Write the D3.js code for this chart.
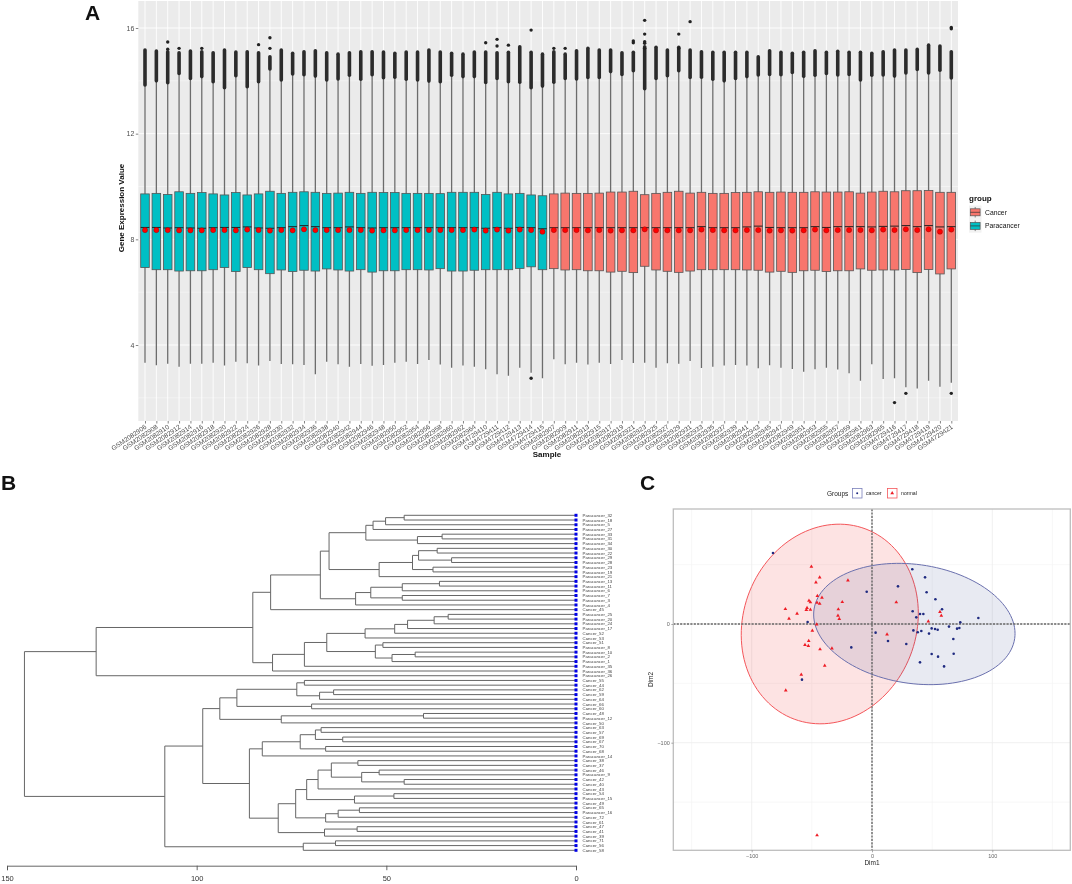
<!DOCTYPE html>
<html><head><meta charset="utf-8">
<script src="https://cdn.jsdelivr.net/npm/d3@7/dist/d3.min.js"></script>
<style>html,body{margin:0;padding:0;background:#fff}svg{display:block;filter:blur(0.25px)}text{font-family:"Liberation Sans",Arial,sans-serif}</style>
</head><body><svg id="c" width="1072" height="884"></svg>
<script>
// ---------- Panel A data ----------
const sampleIds = ["GSM2082906","GSM2082908","GSM2082910","GSM2082912","GSM2082914","GSM2082916","GSM2082918","GSM2082920","GSM2082922","GSM2082924","GSM2082926","GSM2082928","GSM2082930","GSM2082932","GSM2082934","GSM2082936","GSM2082938","GSM2082940","GSM2082942","GSM2082944","GSM2082946","GSM2082948","GSM2082950","GSM2082952","GSM2082954","GSM2082956","GSM2082958","GSM2082960","GSM2082962","GSM2082964","GSM4729410","GSM4729411","GSM4729412","GSM4729413","GSM4729414","GSM4729415",
"GSM2082907","GSM2082909","GSM2082911","GSM2082913","GSM2082915","GSM2082917","GSM2082919","GSM2082921","GSM2082923","GSM2082925","GSM2082927","GSM2082929","GSM2082931","GSM2082933","GSM2082935","GSM2082937","GSM2082939","GSM2082941","GSM2082943","GSM2082945","GSM2082947","GSM2082949","GSM2082951","GSM2082953","GSM2082955","GSM2082957","GSM2082959","GSM2082961","GSM2082963","GSM2082965","GSM4729416","GSM4729417","GSM4729418","GSM4729419","GSM4729420","GSM4729421"];
const upperQuartile = [9.72,9.74,9.70,9.80,9.74,9.77,9.72,9.68,9.77,9.68,9.72,9.82,9.74,9.78,9.80,9.78,9.74,9.75,9.78,9.74,9.78,
9.77,9.77,9.74,9.74,9.74,9.73,9.78,9.78,9.78,9.70,9.78,9.72,9.74,9.68,9.65,9.72,9.75,9.74,9.74,9.75,9.79,9.79,9.82,9.69,9.74,9.78,9.82,9.75,9.78,9.74,9.74,9.77,9.78,9.80,9.78,9.79,9.78,9.78,9.80,9.79,9.79,9.80,9.75,9.79,9.82,9.80,9.84,9.84,9.85,9.78,9.78];
const lowerQuartile = [6.93,6.85,6.85,6.80,6.81,6.81,6.85,6.93,6.78,6.93,6.85,6.70,6.84,6.78,6.83,6.80,6.88,6.84,6.80,6.85,6.76,
6.81,6.81,6.85,6.85,6.84,6.89,6.80,6.80,6.83,6.85,6.85,6.85,6.90,6.96,6.85,6.89,6.84,6.85,6.81,6.81,6.76,6.79,6.74,6.98,6.84,6.79,6.75,6.80,6.85,6.85,6.85,6.85,6.84,6.83,6.76,6.79,6.75,6.81,6.83,6.78,6.81,6.81,6.88,6.83,6.84,6.84,6.86,6.74,6.86,6.69,6.88];
const medians = [8.45,8.45,8.43,8.44,8.43,8.42,8.44,8.45,8.45,8.47,8.43,8.42,8.44,8.48,8.52,8.48,8.44,8.44,8.47,8.44,8.43,
8.44,8.44,8.44,8.44,8.44,8.44,8.44,8.44,8.44,8.42,8.44,8.42,8.45,8.44,8.40,8.44,8.44,8.44,8.44,8.44,8.44,8.44,8.44,8.44,8.44,8.44,8.44,8.44,8.48,8.44,8.44,8.44,8.47,8.50,8.45,8.44,8.44,8.44,8.48,8.45,8.48,8.48,8.48,8.47,8.49,8.50,8.52,8.48,8.52,8.47,8.48];
const means = [8.35,8.35,8.35,8.34,8.34,8.34,8.35,8.35,8.34,8.37,8.35,8.33,8.35,8.34,8.38,8.35,8.35,8.35,8.35,8.35,8.33,
8.34,8.34,8.35,8.35,8.35,8.35,8.35,8.35,8.37,8.33,8.37,8.33,8.37,8.35,8.29,8.35,8.35,8.35,8.34,8.35,8.33,8.34,8.34,8.38,8.34,8.34,8.34,8.34,8.37,8.35,8.34,8.34,8.35,8.35,8.33,8.34,8.33,8.34,8.37,8.34,8.35,8.35,8.35,8.34,8.37,8.35,8.38,8.35,8.38,8.29,8.37];
const whiskerTop = [13.84,14.00,13.93,14.28,14.09,14.16,13.97,13.74,14.19,13.78,13.97,14.45,14.03,14.26,14.23,14.18,14.03,14.07,14.21,14.06,14.23,
14.12,14.14,14.06,14.03,13.99,13.97,14.21,14.16,14.16,13.94,14.09,13.97,13.95,13.74,13.80,13.95,14.09,14.07,14.13,14.13,14.35,14.24,14.38,13.70,14.09,14.19,14.38,14.13,14.14,14.06,14.00,14.09,14.16,14.22,14.24,14.23,14.32,14.17,14.21,14.28,14.22,14.24,14.03,14.21,14.22,14.18,14.30,14.43,14.30,14.40,14.11];
const whiskerBottom = [3.33,3.23,3.29,3.18,3.29,3.29,3.33,3.22,3.37,3.31,3.22,3.39,3.28,3.27,3.24,2.89,3.37,3.27,3.18,3.28,3.21,
3.24,3.33,3.37,3.28,3.43,3.26,3.14,3.22,3.18,3.08,2.89,2.84,3.14,2.95,2.74,3.46,3.27,3.33,3.26,3.33,3.28,3.43,3.32,3.33,3.14,3.31,3.29,3.39,3.13,3.18,3.22,3.24,3.22,3.12,3.23,3.14,3.09,2.99,3.08,3.14,3.07,2.93,2.65,3.27,2.71,2.74,2.40,2.35,2.65,2.42,2.57];
const outlierBandTop = [15.17,15.13,15.10,15.06,15.13,15.10,15.06,15.17,15.09,15.10,15.06,14.91,15.17,15.04,15.10,15.14,15.06,15.01,15.06,15.10,15.10,
15.09,15.04,15.09,15.09,15.17,15.09,15.04,15.01,15.09,15.09,15.06,15.08,15.29,15.08,15.01,15.10,15.01,15.14,15.23,15.17,15.17,15.06,15.08,15.29,15.27,15.17,15.27,15.17,15.10,15.08,15.08,15.08,15.08,14.91,15.14,15.08,15.04,15.08,15.14,15.08,15.12,15.08,15.08,15.04,15.10,15.17,15.17,15.19,15.35,15.32,15.10];
const outlierSample = [2,2,3,5,10,11,11,30,31,31,32,34,34,36,37,43,43,44,44,44,44,44,47,47,48,66,67,71,71,71];
const outlierValue = [15.47,15.2,15.23,15.23,15.37,15.63,15.23,15.44,15.57,15.32,15.35,15.92,2.74,15.23,15.23,15.51,15.44,16.29,15.77,15.48,15.42,15.23,15.77,15.23,16.24,1.82,2.17,16.02,15.97,2.17];
const groupNames = ["Cancer","Paracancer"];
const paracancerCount = 36;
const yTicksA = [4,8,12,16];
const yMinorA = [2,6,10,14];

// ---------- Panel B data ----------
const leafLabels = ["Paracancer_32","Paracancer_18","Paracancer_5","Paracancer_27","Paracancer_33","Paracancer_31","Paracancer_34","Paracancer_30","Paracancer_22","Paracancer_29","Paracancer_28","Paracancer_23","Paracancer_19","Paracancer_21","Paracancer_13","Paracancer_11","Paracancer_6","Paracancer_7","Paracancer_3","Paracancer_4","Cancer_45","Paracancer_25","Paracancer_20","Paracancer_24","Paracancer_17","Cancer_52","Cancer_53","Cancer_51","Paracancer_8","Paracancer_10","Paracancer_2","Paracancer_1","Paracancer_35","Paracancer_36","Paracancer_26","Cancer_55","Cancer_44","Cancer_62","Cancer_59","Cancer_64","Cancer_66","Cancer_60","Cancer_48","Paracancer_12","Cancer_50","Cancer_63","Cancer_57","Cancer_69","Cancer_67","Cancer_70","Cancer_68","Paracancer_14","Cancer_38","Cancer_37","Cancer_46","Paracancer_9","Cancer_42","Cancer_40","Cancer_43","Cancer_54","Paracancer_15","Cancer_49","Cancer_65","Paracancer_16","Cancer_72","Cancer_61","Cancer_47","Cancer_41","Cancer_39","Cancer_71","Cancer_56","Cancer_58"];
// merges: [height, left, right]; a number is an index into leafLabels
const upperMerges = [126.5,[85.2,[80.5,[67.4,[65.1,[55.4,[53.5,[50.2,[45.3,0,1],2],3],[41.8,[35.3,4,5],6]],[51.9,[43.1,[41.5,[36.6,7,8],[32.8,9,10]],[37.7,11,12]],13]],[58.1,[54.1,[45.8,[36,14,15],16],[45.8,17,18]],19]],20],[80,[71.6,[65.7,[55.6,[47.8,[44.4,[37.4,[33.7,21,22],23],24],25],26],[52.9,[50.9,27,28],[48.5,[42.4,29,30],31]]],32],33]],34];
const lowerMerges = [108.4,[98.4,[93.9,[89.4,[73.6,[71.6,35,36],[67.6,[63.9,37,38],39]],[69.7,40,41]],[77.7,[40.2,42,43],44]],[86.1,[82.7,[72.7,[68.7,[67.2,45,46],[61.5,47,48]],[66,49,50]],51],[78.5,[73.9,[71,[68,[64.5,[57.5,52,53],[56.5,[51.9,54,55],[45.3,56,57]]],58],[58.4,[48,59,60],61]],[66,[62.7,[57.1,62,63],64],65]],[66.3,[57.7,66,67],68]]]],[71.9,[63.4,69,70],71]];
const rootHeight = 145.4;
const heightTicks = [150,100,50,0];

// ---------- Panel C data ----------
const cancerDim1 = [-82.3,33.5,44.1,21.6,-4.4,45.4,52.7,33.8,58.2,39.9,42.7,36.8,88.4,73.4,-53.5,72.6,70.7,64,49.6,52.4,54.6,34.4,41,38,47.4,3,67.6,13.3,28.5,-17.2,67.9,49.6,54.9,39.9,59.9,-58.2];
const cancerDim2 = [59.8,46.1,39.3,31.7,27.2,26.7,20.8,10.7,12.4,8.4,8.4,5.6,5.1,1.4,1.7,-3.4,-3.9,-2.2,-3.7,-4.2,-4.8,-5.4,-5.9,-7,-8.1,-7.3,-12.6,-14.3,-16.8,-19.7,-25,-25.3,-27.5,-32.3,-35.7,-46.9];
const normalDim1 = [-50.4,-43.5,-46.6,-20,-45.4,-41.6,-52.4,-51.2,-45.7,-43.5,-24.7,20.2,-72,-54,-54.6,-51.2,-28,-62.3,56.5,-28.3,57.6,-69,-27.2,46.8,-46,-49.6,12.5,-52.6,-55.7,-52.9,-43.2,-33.3,-39.3,-58.8,-71.7,-45.7];
const normalDim2 = [48.3,39.3,35.1,36.8,23.6,22.2,19.7,18.3,18,17.1,18.5,18.3,12.6,13.5,11.8,12.1,12.4,8.7,10.1,7,7,4.5,4.2,2.2,-0.3,-5.6,-8.7,-14.3,-17.7,-18.5,-21.3,-20.5,-35.1,-42.7,-55.9,-178];
// ellipse summaries: centre, half-extent along each axis, correlation
const cancerEllipse = {cx:35.2, cy:0, ax:83.7, ay:51.1, rho:-0.157};
const normalEllipse = {cx:-35.1, cy:0, ax:73.6, ay:84.1, rho:0.106};
const xTicksC = [-100,0,100];
const yTicksC = [-100,0];
const xMinorC = [-150,-50,50,150];
const yMinorC = [-150,-50,50];

// ---------- drawing ----------
const svg = d3.select("#c");
const FONT = '"Liberation Sans",Arial,sans-serif';
const teal = "#00BFC4", salmon = "#F8766D";

// Panel letters
[["A",85,19.5],["B",1,490],["C",640,490]].forEach(([t,x,y]) =>
  svg.append("text").attr("x",x).attr("y",y).attr("font-size",21).attr("font-weight","bold").attr("fill","#111").text(t));

// ===== Panel A =====
const a = {l:138.3,r:958,t:1,b:421};
const xA = d3.scalePoint(sampleIds,[145,951.3]);
const yA = d3.scaleLinear([4,16],[345,28]);
const gA = svg.append("g");
gA.append("rect").attr("x",a.l).attr("y",a.t).attr("width",a.r-a.l).attr("height",a.b-a.t).attr("fill","#EBEBEB");
gA.selectAll("line.minor").data(yMinorA).join("line").attr("x1",a.l).attr("x2",a.r)
  .attr("y1",d=>yA(d)).attr("y2",d=>yA(d)).attr("stroke","#fff").attr("stroke-width",0.4);
gA.selectAll("line.major").data(yTicksA).join("line").attr("x1",a.l).attr("x2",a.r)
  .attr("y1",d=>yA(d)).attr("y2",d=>yA(d)).attr("stroke","#fff").attr("stroke-width",0.9);
gA.selectAll("line.vert").data(sampleIds).join("line").attr("y1",a.t).attr("y2",a.b)
  .attr("x1",d=>xA(d)).attr("x2",d=>xA(d)).attr("stroke","#fff").attr("stroke-width",0.9);

const boxW = 8.6;
sampleIds.forEach((id,i)=>{
  const x = xA(id), g = gA.append("g");
  g.append("line").attr("x1",x).attr("x2",x).attr("y1",yA(whiskerTop[i])).attr("y2",yA(whiskerBottom[i]))
    .attr("stroke","#6c6c6c").attr("stroke-width",1.3);
  g.append("line").attr("x1",x).attr("x2",x).attr("y1",yA(whiskerTop[i])).attr("y2",yA(outlierBandTop[i]))
    .attr("stroke","#2b2b2b").attr("stroke-width",3.6).attr("stroke-linecap","round");
  g.append("rect").attr("x",x-boxW/2).attr("width",boxW)
    .attr("y",yA(upperQuartile[i])).attr("height",yA(lowerQuartile[i])-yA(upperQuartile[i]))
    .attr("fill",i<paracancerCount?teal:salmon).attr("stroke","#555").attr("stroke-width",0.8);
  g.append("line").attr("x1",x-boxW/2).attr("x2",x+boxW/2).attr("y1",yA(medians[i])).attr("y2",yA(medians[i]))
    .attr("stroke","#222").attr("stroke-width",1);
  g.append("circle").attr("cx",x).attr("cy",yA(means[i])).attr("r",2.6)
    .attr("fill","#f00").attr("stroke","#800").attr("stroke-width",0.4);
});
gA.selectAll("circle.out").data(outlierValue).join("circle")
  .attr("cx",(d,i)=>xA(sampleIds[outlierSample[i]])).attr("cy",d=>yA(d)).attr("r",1.7).attr("fill","#222");

const axA = gA.append("g").attr("transform",`translate(${a.l},0)`)
  .call(d3.axisLeft(yA).tickValues(yTicksA).tickSize(2.5).tickPadding(1.5));
axA.select(".domain").remove();
axA.selectAll("line").attr("stroke","#333").attr("stroke-width",0.6);
axA.selectAll("text").attr("font-family",FONT).attr("font-size",7).attr("fill","#4d4d4d");
const axAx = gA.append("g").attr("transform",`translate(0,${a.b})`)
  .call(d3.axisBottom(xA).tickSize(2.5).tickPadding(1));
axAx.select(".domain").remove();
axAx.selectAll("line").attr("stroke","#333").attr("stroke-width",0.6);
axAx.selectAll("text").attr("font-family",FONT).attr("font-size",6.6).attr("fill","#4d4d4d")
  .attr("text-anchor","end").attr("dy","0").attr("y",0)
  .attr("transform","translate(1.5,7) rotate(-34)");

svg.append("text").attr("transform","translate(124,208) rotate(-90)").attr("text-anchor","middle")
  .attr("font-size",8).attr("font-weight","bold").attr("fill","#111").text("Gene Expression Value");
svg.append("text").attr("x",547).attr("y",456.5).attr("text-anchor","middle")
  .attr("font-size",8).attr("font-weight","bold").attr("fill","#111").text("Sample");

// legend A
const lgA = svg.append("g");
lgA.append("text").attr("x",969).attr("y",201).attr("font-size",8).attr("font-weight","bold").attr("fill","#111").text("group");
groupNames.forEach((name,i)=>{
  const y0 = 205.5 + i*13.6, g = lgA.append("g");
  g.append("rect").attr("x",969).attr("y",y0).attr("width",12.5).attr("height",13.6).attr("fill","#F2F2F2");
  g.append("line").attr("x1",975.2).attr("x2",975.2).attr("y1",y0+1.5).attr("y2",y0+12).attr("stroke","#555").attr("stroke-width",.7);
  g.append("rect").attr("x",970.3).attr("y",y0+3.3).attr("width",9.8).attr("height",7).attr("fill",i?teal:salmon).attr("stroke","#555").attr("stroke-width",.7);
  g.append("line").attr("x1",970.3).attr("x2",980.1).attr("y1",y0+6.8).attr("y2",y0+6.8).attr("stroke","#333").attr("stroke-width",.7);
  g.append("text").attr("x",985).attr("y",y0+9.3).attr("font-size",6.8).attr("fill","#111").text(name);
});

// ===== Panel B =====
const xB = d3.scaleLinear([150,0],[7,576]);
const yB = d3.scalePoint(d3.range(leafLabels.length),[515.3,850.3]);
const hier = d3.hierarchy([rootHeight,upperMerges,lowerMerges], d => Array.isArray(d) ? d.slice(1) : null);
hier.eachAfter(n=>{
  if(n.children){ n.h = n.data[0]; n.py = d3.mean(n.children,c=>c.py); }
  else { n.h = 0; n.py = yB(n.data); }
});
const gB = svg.append("g");
const treePath = d3.path();
hier.each(n=>{
  if(!n.children) return;
  const [c1,c2] = n.children;
  treePath.moveTo(xB(c1.h),c1.py); treePath.lineTo(xB(n.h),c1.py);
  treePath.lineTo(xB(n.h),c2.py);  treePath.lineTo(xB(c2.h),c2.py);
});
gB.append("path").attr("d",treePath.toString()).attr("fill","none").attr("stroke","#666").attr("stroke-width",1);
gB.selectAll("rect.leaf").data(leafLabels).join("rect")
  .attr("x",576-1.5).attr("y",(d,i)=>yB(i)-1.5).attr("width",3).attr("height",3).attr("fill","#0000e6");
gB.selectAll("text.leaf").data(leafLabels).join("text")
  .attr("x",582.5).attr("y",(d,i)=>yB(i)+1.6).attr("font-size",4.4).attr("fill","#444").text(d=>d);
const axB = gB.append("g").attr("transform","translate(0,865.7)")
  .call(d3.axisBottom(xB).tickValues(heightTicks).tickSize(4.5).tickPadding(5).tickFormat(d3.format("d")));
axB.select(".domain").attr("stroke","#555").attr("stroke-width",0.9);
axB.selectAll("line").attr("stroke","#555").attr("stroke-width",0.9);
axB.selectAll("text").attr("font-family",FONT).attr("font-size",7.5).attr("fill","#333");

// ===== Panel C =====
const c = {l:673.3,r:1070.3,t:509,b:850.3};
const xC = d3.scaleLinear([-100,100],[751.7,992.3]);
const yC = d3.scaleLinear([-100,0],[742.7,624]);
const gC = svg.append("g");
gC.append("rect").attr("x",c.l).attr("y",c.t).attr("width",c.r-c.l).attr("height",c.b-c.t).attr("fill","#fff");
gC.selectAll("line.vm").data(xMinorC).join("line").attr("y1",c.t).attr("y2",c.b).attr("x1",d=>xC(d)).attr("x2",d=>xC(d)).attr("stroke","#f3f3f3").attr("stroke-width",.7);
gC.selectAll("line.hm").data(yMinorC).join("line").attr("x1",c.l).attr("x2",c.r).attr("y1",d=>yC(d)).attr("y2",d=>yC(d)).attr("stroke","#f3f3f3").attr("stroke-width",.7);
gC.selectAll("line.vM").data(xTicksC).join("line").attr("y1",c.t).attr("y2",c.b).attr("x1",d=>xC(d)).attr("x2",d=>xC(d)).attr("stroke","#ececec").attr("stroke-width",.8);
gC.selectAll("line.hM").data(yTicksC).join("line").attr("x1",c.l).attr("x2",c.r).attr("y1",d=>yC(d)).attr("y2",d=>yC(d)).attr("stroke","#ececec").attr("stroke-width",.8);

const ellipseLine = e => {
  const ts = d3.range(0,2*Math.PI,0.05), phi = Math.acos(e.rho);
  return d3.line().x(t=>xC(e.cx+e.ax*Math.cos(t))).y(t=>yC(e.cy+e.ay*Math.cos(t-phi))).curve(d3.curveLinearClosed)(ts);
};
gC.append("path").attr("d",ellipseLine(normalEllipse)).attr("fill","rgba(240,60,60,0.14)").attr("stroke","#f4565a").attr("stroke-width",1);
gC.append("path").attr("d",ellipseLine(cancerEllipse)).attr("fill","rgba(50,60,140,0.11)").attr("stroke","#6a70ae").attr("stroke-width",1);

gC.append("line").attr("x1",xC(0)).attr("x2",xC(0)).attr("y1",c.t).attr("y2",c.b).attr("stroke","#666").attr("stroke-width",1.4).attr("stroke-dasharray","2.2 1.2");
gC.append("line").attr("x1",c.l).attr("x2",c.r).attr("y1",yC(0)).attr("y2",yC(0)).attr("stroke","#666").attr("stroke-width",1.4).attr("stroke-dasharray","2.2 1.2");

gC.selectAll("circle.ca").data(cancerDim1).join("circle").attr("cx",d=>xC(d)).attr("cy",(d,i)=>yC(cancerDim2[i])).attr("r",1.3).attr("fill","#1f2a80");
gC.selectAll("path.no").data(normalDim1).join("path").attr("d",d3.symbol(d3.symbolTriangle,6)())
  .attr("transform",(d,i)=>`translate(${xC(d)},${yC(normalDim2[i])})`).attr("fill","#ee1c25");

gC.append("rect").attr("x",c.l).attr("y",c.t).attr("width",c.r-c.l).attr("height",c.b-c.t).attr("fill","none").attr("stroke","#bdbdbd").attr("stroke-width",1.3);
const axCx = gC.append("g").attr("transform",`translate(0,${c.b})`).call(d3.axisBottom(xC).tickValues(xTicksC).tickSize(2).tickPadding(1.5));
const axCy = gC.append("g").attr("transform",`translate(${c.l},0)`).call(d3.axisLeft(yC).tickValues(yTicksC).tickSize(2).tickPadding(1.5));
[axCx,axCy].forEach(ax=>{
  ax.select(".domain").remove();
  ax.selectAll("line").attr("stroke","#777").attr("stroke-width",.6);
  ax.selectAll("text").attr("font-family",FONT).attr("font-size",5.5).attr("fill","#666");
});
svg.append("text").attr("x",872).attr("y",865).attr("text-anchor","middle").attr("font-size",6.5).attr("fill","#222").text("Dim1");
svg.append("text").attr("transform","translate(653,679.5) rotate(-90)").attr("text-anchor","middle").attr("font-size",6.5).attr("fill","#222").text("Dim2");

// legend C
const lgC = svg.append("g");
lgC.append("text").attr("x",827).attr("y",495.5).attr("font-size",6.5).attr("fill","#222").text("Groups");
lgC.append("rect").attr("x",852.5).attr("y",488.5).attr("width",9.5).attr("height",9.5).attr("fill","#fff").attr("stroke","#7a80bb").attr("stroke-width",.8);
lgC.append("circle").attr("cx",857.2).attr("cy",493.2).attr("r",1).attr("fill","#1f2a80");
lgC.append("text").attr("x",866).attr("y",495.3).attr("font-size",5.2).attr("fill","#222").text("cancer");
lgC.append("rect").attr("x",887.5).attr("y",488.5).attr("width",9.5).attr("height",9.5).attr("fill","#fff").attr("stroke","#f4565a").attr("stroke-width",.8);
lgC.append("path").attr("d",d3.symbol(d3.symbolTriangle,6)()).attr("transform","translate(892.2,493.2)").attr("fill","#ee1c25");
lgC.append("text").attr("x",901).attr("y",495.3).attr("font-size",5.2).attr("fill","#222").text("normal");
</script></body></html>
